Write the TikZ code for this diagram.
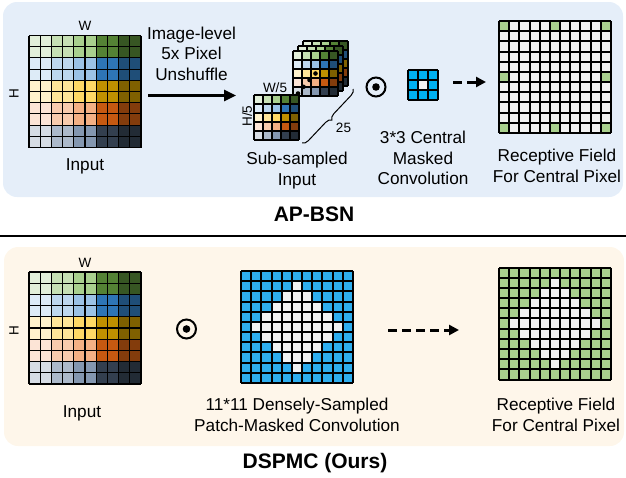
\documentclass[tikz,border=0pt]{standalone}
\usepackage{fontspec}
\setmainfont{Liberation Sans}
\usetikzlibrary{arrows.meta,decorations.pathreplacing,calc}

% palette of the 5x5 colour blocks (row group, column group)
\definecolor{c00}{HTML}{E2EFDA}\definecolor{c01}{HTML}{C6E0B4}\definecolor{c02}{HTML}{A9D08E}\definecolor{c03}{HTML}{548235}\definecolor{c04}{HTML}{375623}
\definecolor{c10}{HTML}{DDEBF7}\definecolor{c11}{HTML}{BDD7EE}\definecolor{c12}{HTML}{9BC2E6}\definecolor{c13}{HTML}{2E75B6}\definecolor{c14}{HTML}{1F4E78}
\definecolor{c20}{HTML}{FFF2CC}\definecolor{c21}{HTML}{FFE699}\definecolor{c22}{HTML}{FFD966}\definecolor{c23}{HTML}{BF9000}\definecolor{c24}{HTML}{7F6000}
\definecolor{c30}{HTML}{FCE4D6}\definecolor{c31}{HTML}{F8CBAD}\definecolor{c32}{HTML}{F4B084}\definecolor{c33}{HTML}{C65911}\definecolor{c34}{HTML}{833C0C}
\definecolor{c40}{HTML}{D6DCE4}\definecolor{c41}{HTML}{ACB9CA}\definecolor{c42}{HTML}{8497B0}\definecolor{c43}{HTML}{333F4F}\definecolor{c44}{HTML}{222B35}
\definecolor{topbg}{HTML}{E5EEF9}
\definecolor{botbg}{HTML}{FEF6EA}
\definecolor{lightcell}{HTML}{F2F2F2}
\definecolor{kblue}{HTML}{00B0F0}
\definecolor{mblue}{HTML}{2EAEEF}
\definecolor{rfgreen}{HTML}{A9D08E}

\tikzset{
  lbl/.style={font=\fontsize{17.2}{20.5}\selectfont, align=center, inner sep=0pt},
  small/.style={font=\fontsize{13.5}{16}\selectfont, inner sep=0pt},
  ttl/.style={font=\fontsize{21}{25}\selectfont\bfseries, inner sep=0pt},
  frame/.style={draw=none, inner sep=0pt, outer sep=0pt},
  gridpen/.style={line width=1.1pt, black},
  thickpen/.style={line width=2pt, black},
  odot/.style={circle, draw, line width=2pt, minimum size=19pt, inner sep=0pt},
  solidarrow/.style={line width=2.7pt, -{Triangle[length=12pt,width=11pt]}},
  dasharrow/.style={line width=3pt, dash pattern=on 9pt off 5pt, -{Triangle[length=10pt,width=10pt]}},
  % 5x5 colour blocks, each block #1 x #1 cells of size #2
  pics/colorgrid/.style args={#1/#2}{code={%
    \foreach \gr in {0,...,4}{\foreach \gc in {0,...,4}{%
      \fill[fill=c\gr\gc] (\gc*#1*#2,\gr*#1*#2) rectangle ++(#1*#2,#1*#2);}}
    \pgfmathtruncatemacro\nn{5*#1}
    \foreach \i in {0,...,\nn}{%
      \draw[gridpen] (\i*#2,0) -- (\i*#2,\nn*#2);
      \draw[gridpen] (0,\i*#2) -- (\nn*#2,\i*#2);}
  }},
  % 11x11 field with a diamond of light cells, outer cells in colour #1
  pics/diamondfield/.style={code={%
    \def\cs{10.1818}
    \fill[lightcell] (0,0) rectangle (112,112);
    \foreach \gr in {0,...,10}{\foreach \gc in {0,...,10}{%
      \pgfmathtruncatemacro\dd{abs(\gr-5)+abs(\gc-5)}
      \ifnum\dd>4 \fill[fill=#1] (\gc*\cs,\gr*\cs) rectangle ++(\cs,\cs);\fi}}
    \foreach \i in {0,...,11}{%
      \draw[thickpen] (\i*\cs,0) -- (\i*\cs,112);
      \draw[thickpen] (0,\i*\cs) -- (112,\i*\cs);}
  }},
  % 11x11 field with eight dilated sample positions
  pics/sparsefield/.style={code={%
    \def\cs{10.1818}
    \fill[lightcell] (0,0) rectangle (112,112);
    \foreach \gr/\gc in {0/0,0/5,0/10,5/0,5/10,10/0,10/5,10/10}{%
      \fill[rfgreen] (\gc*\cs,\gr*\cs) rectangle ++(\cs,\cs);}
    \foreach \i in {0,...,11}{%
      \draw[thickpen] (\i*\cs,0) -- (\i*\cs,112);
      \draw[thickpen] (0,\i*\cs) -- (112,\i*\cs);}
  }},
  % 3x3 kernel with masked centre
  pics/kernel/.style={code={%
    \fill[kblue] (0,0) rectangle (30,30);
    \fill[lightcell] (10,10) rectangle (20,20);
    \foreach \i in {0,...,3}{%
      \draw[line width=1.5pt] (\i*10,0) -- (\i*10,30);
      \draw[line width=1.5pt] (0,\i*10) -- (30,\i*10);}
  }},
}

\begin{document}
\begin{tikzpicture}[x=1pt,y=-1pt]
\useasboundingbox (0,0) rectangle (626,477);

% ---------- panel backgrounds ----------
\fill[topbg, rounded corners=14pt] (3,2) rectangle (623,197);
\fill[botbg, rounded corners=14pt] (4,247) rectangle (624,446);
\draw[line width=2pt] (0,235.5) -- (626,235.5);

% ---------- AP-BSN ----------
\node[frame, minimum size=112pt] (inA) at (85,91.5) {};
\pic at (inA.north west) {colorgrid=2/11.2};
\node[small] (wA) at (85,26) {W};
\node[small, rotate=90] (hA) at (14,94) {H};
\node[lbl] (inAtxt) at (85,166) {Input};

\node[lbl] (pu) at (191.5,53.5) {Image-level\\5x Pixel\\Unshuffle};
\coordinate (puS) at (148,95.5);
\coordinate (puE) at (236,95.5);
\draw[solidarrow] (puS) -- (puE);

% stack of 25 sub-images
\foreach \dx in {10,5,0}{%
  \pic at (293+\dx,51-\dx) {colorgrid=1/9};}
\node[frame, minimum size=45pt] (subF) at (276.5,117.5) {};
\pic at (subF.north west) {colorgrid=1/9};
\foreach \px/\py in {315.5/73.5,309.5/80,303.5/86.8,298/93.5}{%
  \fill (\px,\py) circle (2.3pt);}
\node[small] (w5) at (275,87.5) {W/5};
\node[small, rotate=90] (h5) at (247,116) {H/5};
\coordinate (brT) at (353,89);
\coordinate (brB) at (302,143);
\draw[line width=1pt, decorate, decoration={brace, amplitude=6pt}] (brT) -- (brB);
\node[small] (n25) at (343.5,127.5) {25};
\node[lbl] (subtxt) at (297,170.5) {Sub-sampled\\Input};

\node[odot] (opA) at (376,87) {};
\fill (opA) circle (3.8pt);

\node[frame, minimum size=30pt] (ker) at (423,85) {};
\pic at (ker.north west) {kernel};
\node[lbl] (kertxt) at (423,158) {3*3 Central\\Masked\\Convolution};

\coordinate (daS) at (453,82);
\coordinate (daE) at (486,82);
\draw[dasharrow] (daS) -- (daE);

\node[frame, minimum size=112pt] (rfA) at (555,77) {};
\pic at (rfA.north west) {sparsefield};
\node[lbl] (rfAtxt) at (557,166) {Receptive Field\\For Central Pixel};

\node[ttl] (apbsn) at (314,214) {AP-BSN};

% ---------- DSPMC ----------
\node[frame, minimum size=112pt] (inB) at (85,328) {};
\pic at (inB.north west) {colorgrid=2/11.2};
\node[small] (wB) at (85,262.5) {W};
\node[small, rotate=90] (hB) at (14,331) {H};
\node[lbl] (inBtxt) at (82,413) {Input};

\node[odot] (opB) at (186.5,329) {};
\fill (opB) circle (3.8pt);

\node[frame, minimum size=112pt] (mask) at (297,327) {};
\pic at (mask.north west) {diamondfield=mblue};
\node[lbl] (masktxt) at (297,415) {11*11 Densely-Sampled\\Patch-Masked Convolution};

\coordinate (dbS) at (388,330);
\coordinate (dbE) at (459,330);
\draw[dasharrow] (dbS) -- (dbE);

\node[frame, minimum size=112pt] (rfB) at (555,323.5) {};
\pic at (rfB.north west) {diamondfield=rfgreen};
\node[lbl] (rfBtxt) at (556,415) {Receptive Field\\For Central Pixel};

\node[ttl] (dspmc) at (315,463) {DSPMC (Ours)};
\end{tikzpicture}
\end{document}
